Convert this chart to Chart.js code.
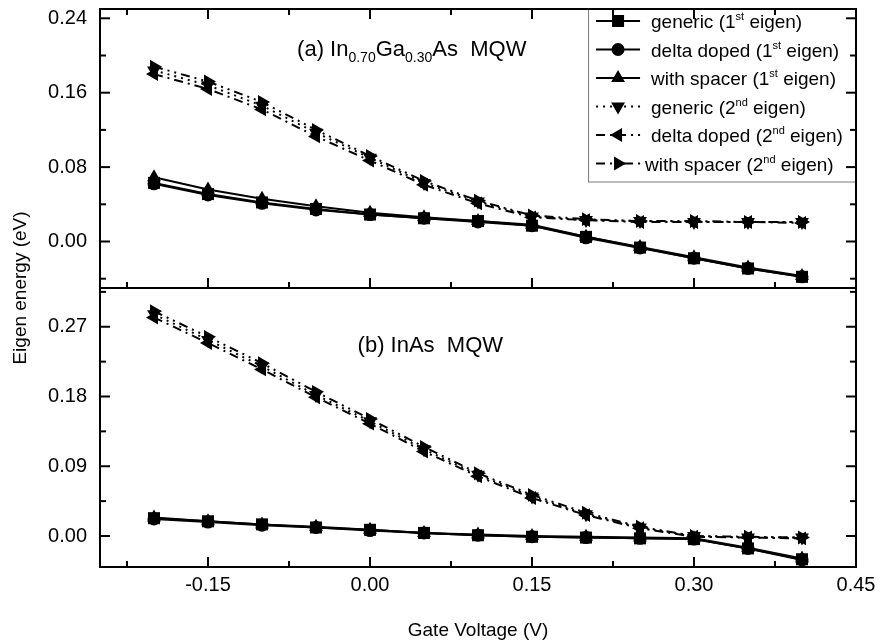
<!DOCTYPE html>
<html>
<head>
<meta charset="utf-8">
<script src="https://cdn.jsdelivr.net/npm/chart.js@4.4.1/dist/chart.umd.min.js"></script>
<style>
  html, body { margin: 0; padding: 0; background: #fff; }
  #wrap { width: 882px; height: 642px; }
</style>
</head>
<body>
<div id="wrap"><canvas id="chart" width="882" height="642"></canvas></div>
<script>
// gate voltage (V)
const gateVoltage = [-0.20, -0.15, -0.10, -0.05, 0.00, 0.05, 0.10, 0.15, 0.20, 0.25, 0.30, 0.35, 0.40]

// (a) In0.70Ga0.30As MQW, eigen energy (eV)
const aGeneric1 = [0.063, 0.051, 0.042, 0.035, 0.029, 0.025, 0.022, 0.017, 0.005, -0.0065, -0.018, -0.029, -0.038]
const aDelta1   = [0.062, 0.050, 0.041, 0.034, 0.029, 0.025, 0.021, 0.017, 0.004, -0.007, -0.018, -0.029, -0.038]
const aSpacer1  = [0.069, 0.056, 0.046, 0.038, 0.031, 0.026, 0.022, 0.018, 0.005, -0.006, -0.017, -0.028, -0.037]
const aGeneric2 = [0.184, 0.168, 0.146, 0.117, 0.090, 0.063, 0.043, 0.027, 0.023, 0.022, 0.021, 0.021, 0.021]
const aDelta2   = [0.180, 0.164, 0.142, 0.113, 0.087, 0.061, 0.041, 0.026, 0.023, 0.021, 0.021, 0.021, 0.020]
const aSpacer2  = [0.188, 0.172, 0.150, 0.120, 0.092, 0.065, 0.044, 0.028, 0.024, 0.022, 0.022, 0.021, 0.021]

// (b) InAs MQW, eigen energy (eV)
const bGeneric1 = [0.023, 0.019, 0.015, 0.011, 0.008, 0.004, 0.001, -0.001, -0.002, -0.003, -0.004, -0.016, -0.030]
const bDelta1   = [0.022, 0.018, 0.014, 0.011, 0.007, 0.004, 0.001, -0.001, -0.002, -0.003, -0.004, -0.016, -0.031]
const bSpacer1  = [0.024, 0.019, 0.015, 0.012, 0.008, 0.004, 0.002, 0.000, -0.001, -0.002, -0.003, -0.015, -0.029]
const bGeneric2 = [0.286, 0.253, 0.219, 0.182, 0.148, 0.112, 0.079, 0.051, 0.028, 0.011, 0.000, -0.002, -0.002]
const bDelta2   = [0.282, 0.249, 0.215, 0.179, 0.145, 0.109, 0.077, 0.049, 0.027, 0.010, -0.001, -0.002, -0.003]
const bSpacer2  = [0.290, 0.257, 0.223, 0.186, 0.151, 0.115, 0.081, 0.053, 0.030, 0.012, 0.000, -0.001, -0.002]

const seriesNames = ['generic', 'delta doped', 'with spacer', 'generic', 'delta doped', 'with spacer']
const seriesLevel = ['1', '1', '1', '2', '2', '2']
const levelSup = { '1': 'st', '2': 'nd' }

// axis ticks
const xMajor = [-0.15, 0.00, 0.15, 0.30, 0.45]
const xMinor = [-0.225, -0.075, 0.075, 0.225, 0.375]
const aMajor = [0.00, 0.08, 0.16, 0.24]
const aMinor = [-0.04, 0.04, 0.12, 0.20]
const bMajor = [0.00, 0.09, 0.18, 0.27]
const bMinor = [0.045, 0.135, 0.225, 0.315]

const FONT = "'Liberation Sans', Arial, Helvetica, sans-serif"

// marker + line look for each series (same order as seriesNames)
const looks = [
  { pointStyle: 'rect',     radius: 8.5, rotation: 0,   dash: [] },
  { pointStyle: 'circle',   radius: 6.5, rotation: 0,   dash: [] },
  { pointStyle: 'triangle', radius: 8,   rotation: 0,   dash: [] },
  { pointStyle: 'triangle', radius: 8,   rotation: 180, dash: [2, 5] },
  { pointStyle: 'triangle', radius: 8,   rotation: -90, dash: [9, 5, 2, 5] },
  { pointStyle: 'triangle', radius: 8,   rotation: 90,  dash: [9, 5, 2, 5, 2, 5] }
]

function makeSets(arrays, axis) {
  return arrays.map((arr, k) => ({
    label: seriesNames[k] + ' (' + seriesLevel[k] + levelSup[seriesLevel[k]] + ' eigen)',
    data: gateVoltage.map((x, i) => ({ x, y: arr[i] })),
    yAxisID: axis,
    borderColor: '#000',
    backgroundColor: '#000',
    borderWidth: 2,
    borderDash: looks[k].dash,
    pointStyle: looks[k].pointStyle,
    pointRadius: looks[k].radius,
    pointRotation: looks[k].rotation,
    pointBorderWidth: 0,
    pointBackgroundColor: '#000',
    tension: 0
  }))
}

const datasets = [
  ...makeSets([aGeneric1, aDelta1, aSpacer1, aGeneric2, aDelta2, aSpacer2], 'ya'),
  ...makeSets([bGeneric1, bDelta1, bSpacer1, bGeneric2, bDelta2, bSpacer2], 'yb')
]

const tickFmt = v => Number(v).toFixed(2)

function yAxis(min, max, major, weight) {
  return {
    type: 'linear', position: 'left', stack: 'panels', stackWeight: 1, weight,
    min, max,
    afterBuildTicks: s => { s.ticks = major.map(v => ({ value: v })) },
    afterFit: s => { s.width = 100; s.paddingTop = 0; s.paddingBottom = 0 },
    ticks: { color: '#000', font: { family: FONT, size: 20 }, padding: 13, callback: tickFmt },
    grid: { display: false, drawTicks: false },
    border: { display: false }
  }
}

// frame, inward ticks, panel labels, y title and legend
const decor = {
  id: 'decor',
  afterDraw(chart) {
    const c = chart.ctx
    const area = chart.chartArea
    const sx = chart.scales.x, ya = chart.scales.ya, yb = chart.scales.yb
    c.save()
    c.strokeStyle = '#000'
    c.fillStyle = '#000'

    // legend (top right of panel a)
    const lx = sx.getPixelForValue(0.2019), ly = ya.top
    const lw = area.right - lx, lh = 173
    c.lineWidth = 1
    c.strokeStyle = '#7a7a7a'
    c.strokeRect(lx + 0.5, ly, lw, lh)
    c.strokeStyle = '#000'
    chart.data.datasets.slice(0, 6).forEach((ds, k) => {
      const rowY = ly + 12 + k * 28.5
      const last = k === 5
      const x0 = lx + 8, x1 = lx + 52, mx = lx + 30
      c.lineWidth = 2
      c.setLineDash(looks[k].dash)
      c.beginPath(); c.moveTo(x0, rowY); c.lineTo(x1, rowY); c.stroke()
      c.setLineDash([])
      Chart.helpers.drawPoint(c, { pointStyle: looks[k].pointStyle, rotation: looks[k].rotation, radius: looks[k].radius, borderWidth: 0 }, mx, rowY)
      let tx = last ? lx + 57 : lx + 63
      const base = rowY + 7
      c.textBaseline = 'alphabetic'; c.textAlign = 'left'
      c.font = '19px ' + FONT
      const head = seriesNames[k] + ' (' + seriesLevel[k]
      c.fillText(head, tx, base); tx += c.measureText(head).width
      c.font = '11px ' + FONT
      const sup = levelSup[seriesLevel[k]]
      c.fillText(sup, tx, base - 8); tx += c.measureText(sup).width
      c.font = '19px ' + FONT
      c.fillText(' eigen)', tx, base)
    })

    // frames
    c.lineWidth = 2
    c.strokeRect(area.left, ya.top, area.right - area.left, ya.bottom - ya.top)
    c.strokeRect(area.left, yb.top, area.right - area.left, yb.bottom - yb.top)

    const tick = (x1, y1, x2, y2) => { c.beginPath(); c.moveTo(x1, y1); c.lineTo(x2, y2); c.stroke() }
    c.lineWidth = 2
    // x ticks: bottom of both panels, top of panel a
    const xs = [[xMajor, 10], [xMinor, 6]]
    xs.forEach(([vals, len]) => vals.forEach(v => {
      const px = sx.getPixelForValue(v)
      if (px <= area.left + 1 || px >= area.right - 1) return
      tick(px, ya.bottom, px, ya.bottom - len)
      tick(px, ya.top, px, ya.top + len)
      tick(px, yb.bottom, px, yb.bottom - len)
    }))
    // y ticks: left and right of each panel
    const ys = [[ya, aMajor, 10], [ya, aMinor, 6], [yb, bMajor, 10], [yb, bMinor, 6]]
    ys.forEach(([s, vals, len]) => vals.forEach(v => {
      const py = s.getPixelForValue(v)
      tick(area.left, py, area.left + len, py)
      tick(area.right, py, area.right - len, py)
    }))

    // panel labels
    c.textBaseline = 'alphabetic'; c.textAlign = 'left'
    const runs = (x, y, parts) => {
      parts.forEach(([t, sub]) => {
        c.font = (sub ? '14px ' : '22px ') + FONT
        c.fillText(t, x, sub ? y + 6 : y)
        x += c.measureText(t).width
      })
    }
    runs(sx.getPixelForValue(-0.0675), ya.getPixelForValue(0.2), [['(a) In', 0], ['0.70', 1], ['Ga', 0], ['0.30', 1], ['As  MQW', 0]])
    runs(sx.getPixelForValue(-0.0115), yb.getPixelForValue(0.237), [['(b) InAs  MQW', 0]])

    // shared y title
    c.font = '19px ' + FONT
    c.textAlign = 'center'; c.textBaseline = 'middle'
    c.translate(21, (ya.top + yb.bottom) / 2)
    c.rotate(-Math.PI / 2)
    c.fillText('Eigen energy (eV)', 0, 0)
    c.restore()
  }
}

new Chart(document.getElementById('chart'), {
  type: 'line',
  data: { datasets },
  plugins: [decor],
  options: {
    responsive: false,
    animation: false,
    layout: { padding: { top: 9, right: 26, left: 0, bottom: 0 } },
    plugins: { legend: { display: false }, tooltip: { enabled: false } },
    scales: {
      x: {
        type: 'linear', min: -0.25, max: 0.45,
        afterBuildTicks: s => { s.ticks = xMajor.map(v => ({ value: v })) },
        afterFit: s => { s.height = 75; s.paddingLeft = 0; s.paddingRight = 0 },
        ticks: { color: '#000', font: { family: FONT, size: 20 }, padding: 6, callback: tickFmt, maxRotation: 0 },
        grid: { display: false, drawTicks: false },
        border: { display: false },
        title: { display: true, text: 'Gate Voltage (V)', color: '#000', font: { family: FONT, size: 19 }, padding: { top: 0, bottom: 0 } }
      },
      yb: yAxis(-0.04, 0.32, bMajor, 1),
      ya: yAxis(-0.05, 0.25, aMajor, 2)
    }
  }
})
</script>
</body>
</html>
